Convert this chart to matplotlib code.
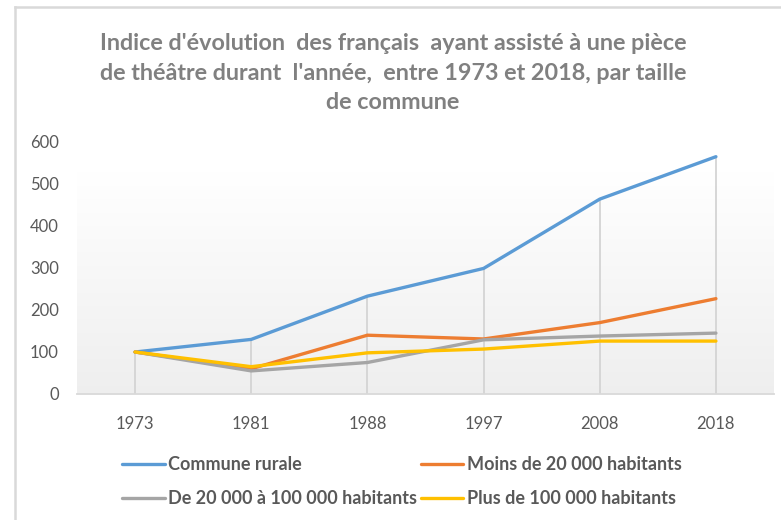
import numpy as np
import matplotlib.pyplot as plt
from matplotlib.lines import Line2D

plt.rcParams['font.family'] = ['Lato', 'DejaVu Sans']

annees = ['1973', '1981', '1988', '1997', '2008', '2018']
rurale = [100, 130, 233, 299, 464, 565]
moins_20k = [100, 60, 140, 131, 170, 227]
de_20k_100k = [100, 55, 75, 129, 138, 145]
plus_100k = [100, 65, 98, 107, 126, 126]

series = [
    ("Commune rurale", rurale, "#5b9bd5"),
    ("Moins de 20 000 habitants", moins_20k, "#ed7d31"),
    ("De 20 000 à 100 000 habitants", de_20k_100k, "#a5a5a5"),
    ("Plus de 100 000 habitants", plus_100k, "#ffc000"),
]

fig = plt.figure(figsize=(7.81, 5.2), dpi=100)
ax = fig.add_axes([77 / 781, 126 / 520, 697 / 781, 252 / 520])

x = np.arange(len(annees))
ax.set_xlim(-0.5, len(annees) - 0.5)
ax.set_ylim(0, 600)

# fond en dégradé (blanc en haut, gris clair en bas)
grad = np.linspace(0, 1, 256).reshape(-1, 1)
grad = np.clip((grad - 0.12) / 0.88, 0, 1)
c = 1 - 0.065 * grad
img = np.dstack([c, c, c])
ax.imshow(img, extent=[-0.5, len(annees) - 0.5, 0, 600], aspect='auto',
          origin='upper', zorder=0)

# lignes de projection
maxi = np.max([s[1] for s in series], axis=0)
ax.vlines(x, 0, maxi, color="#d4d4d4", lw=1.3, zorder=1)

handles = []
for nom, vals, col in series:
    h, = ax.plot(x, vals, color=col, lw=2.4, label=nom, zorder=3,
                 solid_capstyle='round', solid_joinstyle='round')
    handles.append(h)

for s in ['top', 'right', 'left']:
    ax.spines[s].set_visible(False)
ax.spines['bottom'].set_color("#d9d9d9")
ax.spines['bottom'].set_linewidth(1.3)

ax.set_xticks(x)
ax.set_xticklabels(annees)
ax.set_yticks(range(0, 601, 100))
ax.tick_params(axis='both', length=0, labelsize=12, colors="#595959")
ax.tick_params(axis='x', pad=16)
ax.tick_params(axis='y', pad=13)

fig.text(0.503, 1 - 73 / 520,
         "Indice d'évolution  des français  ayant assisté à une pièce\n"
         "de théâtre durant  l'année,  entre 1973 et 2018, par taille\n"
         "de commune",
         ha='center', va='center', fontsize=16.8, fontweight='bold',
         color="#808080", linespacing=1.5)

ordre = [handles[0], handles[2], handles[1], handles[3]]
leg = fig.legend(ordre, [h.get_label() for h in ordre], ncol=2,
                 loc='upper left', bbox_to_anchor=(106 / 781, 1 - 440 / 520),
                 frameon=False, handlelength=2.35, handletextpad=0.2,
                 columnspacing=0.2, labelspacing=0.95,
                 prop={'size': 13, 'weight': 'bold'})
for t in leg.get_texts():
    t.set_color("#595959")

# cadre du graphique
fig.add_artist(Line2D([15 / 781, 15 / 781], [0, 1 - 7 / 520],
                      transform=fig.transFigure, color="#d9d9d9", lw=1.8))
fig.add_artist(Line2D([15 / 781, 1], [1 - 7 / 520, 1 - 7 / 520],
                      transform=fig.transFigure, color="#d9d9d9", lw=1.8))

fig.savefig("out.png", dpi=100)
